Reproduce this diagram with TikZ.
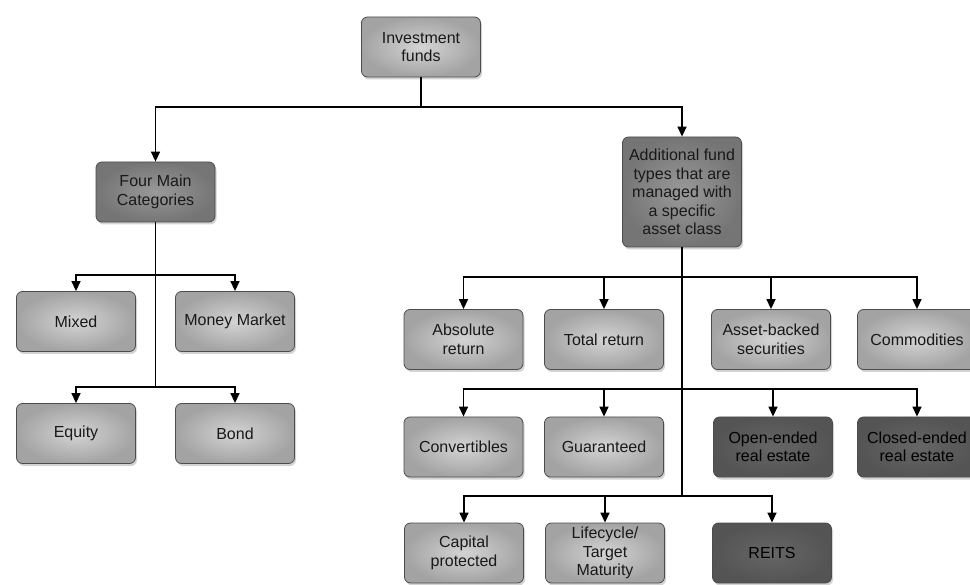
\documentclass[tikz,border=0pt]{standalone}
\usepackage{fontspec}
\setmainfont{Liberation Sans}
\usetikzlibrary{arrows.meta,shadows}
\begin{document}
\begin{tikzpicture}[x=1pt,y=-1pt,
 box/.style={draw=black!70, line width=0.8pt, rounded corners=6pt, minimum width=119pt, minimum height=60pt, align=center, font=\fontsize{16}{18.5}\selectfont, inner sep=2pt, text=black!90, drop shadow={opacity=0.35, shadow xshift=1.5pt, shadow yshift=-2.5pt}},
 light/.style={box, inner color=black!17, outer color=black!36},
 mid/.style={box, inner color=black!40, outer color=black!54},
 dark/.style={box, inner color=black!60, outer color=black!67, text=black},
 arr/.style={line width=1.4pt, -{Triangle[length=10pt,width=9pt]}},
 ln/.style={line width=1.4pt}]
\clip (0,0) rectangle (970,585);
% nodes
\node[light] (inv) at (421,47) {Investment\\funds};
\node[mid] (four) at (155.5,192) {Four Main\\Categories};
\node[mid, minimum height=110pt] (add) at (682,192) {Additional fund\\types that are\\managed with\\a specific\\asset class};
\node[light] (mixed) at (76,321.5) {Mixed};
\node[light] (money) at (235,321.5) {Money Market};
\node[light] (equity) at (76,433.5) {Equity};
\node[light] (bond) at (235,433.5) {Bond};
\node[light] (abs) at (463.5,339.5) {Absolute\\return};
\node[light] (total) at (604,339.5) {Total return};
\node[light] (asset) at (771,339.5) {Asset-backed\\securities};
\node[light] (comm) at (917,339.5) {Commodities};
\node[light] (conv) at (463.5,447) {Convertibles};
\node[light] (guar) at (604,447) {Guaranteed};
\node[dark] (open) at (773,447) {Open-ended\\real estate};
\node[dark] (closed) at (917,447) {Closed-ended\\real estate};
\node[light] (cap) at (464,553) {Capital\\protected};
\node[light] (life) at (605,553) {Lifecycle/\\Target\\Maturity};
\node[dark] (reits) at (772,553) {REITS};
% junctions
\coordinate (j0) at (421,107);
\coordinate (j1) at (155.5,275);
\coordinate (j2) at (155.5,387);
\coordinate (j3) at (682,277);
\coordinate (j4) at (682,389);
\coordinate (j5) at (682,496);
% connectors
\draw[ln] (inv.south) -- (j0);
\draw[arr] (j0) -| (four.north);
\draw[arr] (j0) -| (add.north);
\draw[ln] (four.south) -- (j2);
\draw[arr] (j1) -| (mixed.north);
\draw[arr] (j1) -| (money.north);
\draw[arr] (j2) -| (equity.north);
\draw[arr] (j2) -| (bond.north);
\draw[ln] (add.south) -- (j5);
\draw[arr] (j3) -| (abs.north);
\draw[arr] (j3) -| (total.north);
\draw[arr] (j3) -| (asset.north);
\draw[arr] (j3) -| (comm.north);
\draw[arr] (j4) -| (conv.north);
\draw[arr] (j4) -| (guar.north);
\draw[arr] (j4) -| (open.north);
\draw[arr] (j4) -| (closed.north);
\draw[arr] (j5) -| (cap.north);
\draw[arr] (j5) -| (life.north);
\draw[arr] (j5) -| (reits.north);
\end{tikzpicture}
\end{document}
